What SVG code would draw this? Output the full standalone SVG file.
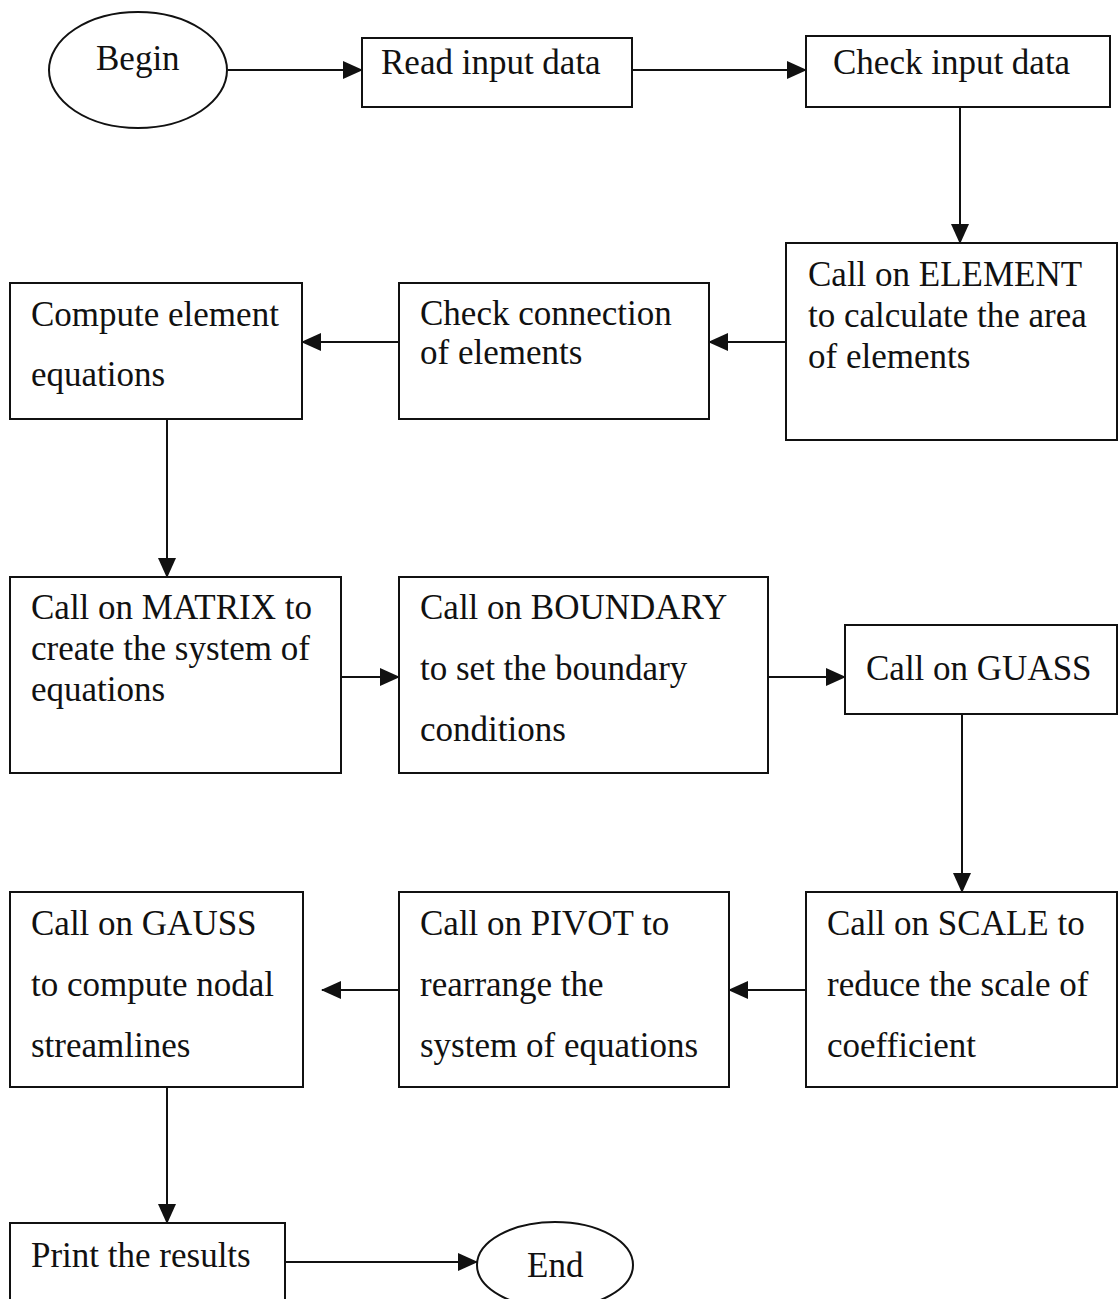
<svg xmlns="http://www.w3.org/2000/svg" width="1118" height="1299" viewBox="0 0 1118 1299">
<defs>
<style>
.n{fill:#fff;stroke:#111;stroke-width:2}
.t{font-family:"Liberation Serif","Times New Roman",serif;font-size:35px;fill:#111}
.c{stroke:#111;stroke-width:2;fill:none;marker-end:url(#ah)}
</style>
<marker id="ah" markerWidth="20" markerHeight="20" refX="19" refY="10" orient="auto" markerUnits="userSpaceOnUse">
<path d="M0,1 L20,10 L0,19 Z" fill="#111"/>
</marker>
</defs>
<rect width="1118" height="1299" fill="#fff"/>
<g id="connectors">
<line class="c" x1="228" y1="70" x2="362" y2="70"/>
<line class="c" x1="632" y1="70" x2="806" y2="70"/>
<line class="c" x1="960" y1="107" x2="960" y2="243"/>
<line class="c" x1="786" y1="342" x2="709" y2="342"/>
<line class="c" x1="399" y1="342" x2="302" y2="342"/>
<line class="c" x1="167" y1="419" x2="167" y2="577"/>
<line class="c" x1="341" y1="677" x2="399" y2="677"/>
<line class="c" x1="768" y1="677" x2="845" y2="677"/>
<line class="c" x1="962" y1="714" x2="962" y2="892"/>
<line class="c" x1="806" y1="990" x2="729" y2="990"/>
<line class="c" x1="399" y1="990" x2="322" y2="990"/>
<line class="c" x1="167" y1="1087" x2="167" y2="1223"/>
<line class="c" x1="285" y1="1262" x2="477" y2="1262"/>
</g>
<g id="begin">
<ellipse class="n" cx="138" cy="70" rx="89" ry="58"/>
<text class="t" x="96" y="70">Begin</text>
</g>
<g id="read">
<rect class="n" x="362" y="38" width="270" height="69"/>
<text class="t" x="381" y="74">Read input data</text>
</g>
<g id="check">
<rect class="n" x="806" y="36" width="304" height="71"/>
<text class="t" x="833" y="74">Check input data</text>
</g>
<g id="element">
<rect class="n" x="786" y="243" width="331" height="197"/>
<text class="t" x="808" y="286">Call on ELEMENT</text>
<text class="t" x="808" y="327">to calculate the area</text>
<text class="t" x="808" y="368">of elements</text>
</g>
<g id="connection">
<rect class="n" x="399" y="283" width="310" height="136"/>
<text class="t" x="420" y="325">Check connection</text>
<text class="t" x="420" y="364">of elements</text>
</g>
<g id="compute">
<rect class="n" x="10" y="283" width="292" height="136"/>
<text class="t" x="31" y="326">Compute element</text>
<text class="t" x="31" y="386">equations</text>
</g>
<g id="matrix">
<rect class="n" x="10" y="577" width="331" height="196"/>
<text class="t" x="31" y="619">Call on MATRIX to</text>
<text class="t" x="31" y="660">create the system of</text>
<text class="t" x="31" y="701">equations</text>
</g>
<g id="boundary">
<rect class="n" x="399" y="577" width="369" height="196"/>
<text class="t" x="420" y="619">Call on BOUNDARY</text>
<text class="t" x="420" y="680">to set the boundary</text>
<text class="t" x="420" y="741">conditions</text>
</g>
<g id="guass">
<rect class="n" x="845" y="625" width="272" height="89"/>
<text class="t" x="866" y="680">Call on GUASS</text>
</g>
<g id="scale">
<rect class="n" x="806" y="892" width="311" height="195"/>
<text class="t" x="827" y="935">Call on SCALE to</text>
<text class="t" x="827" y="996">reduce the scale of</text>
<text class="t" x="827" y="1057">coefficient</text>
</g>
<g id="pivot">
<rect class="n" x="399" y="892" width="330" height="195"/>
<text class="t" x="420" y="935">Call on PIVOT to</text>
<text class="t" x="420" y="996">rearrange the</text>
<text class="t" x="420" y="1057">system of equations</text>
</g>
<g id="gauss">
<rect class="n" x="10" y="892" width="293" height="195"/>
<text class="t" x="31" y="935">Call on GAUSS</text>
<text class="t" x="31" y="996">to compute nodal</text>
<text class="t" x="31" y="1057">streamlines</text>
</g>
<g id="print">
<rect class="n" x="10" y="1223" width="275" height="90"/>
<text class="t" x="31" y="1267">Print the results</text>
</g>
<g id="end">
<ellipse class="n" cx="555" cy="1265" rx="78" ry="43"/>
<text class="t" x="527" y="1277">End</text>
</g>
</svg>
